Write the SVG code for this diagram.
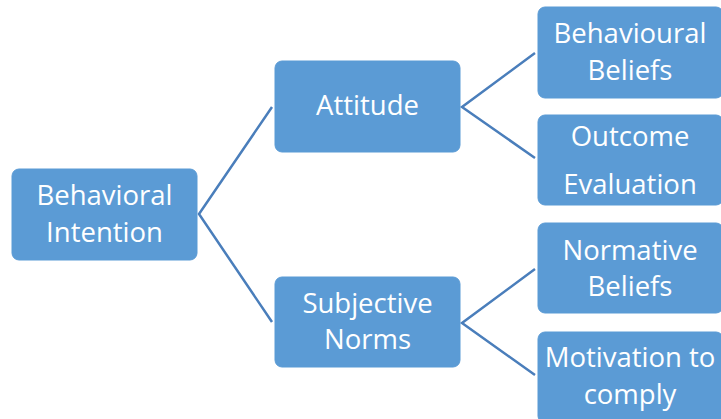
<svg xmlns="http://www.w3.org/2000/svg" width="721" height="419" viewBox="0 0 721 419">
<style>
.box{fill:#5B9BD5;stroke:#5B9BD5;stroke-width:1}
.t{font-family:"Open Sans","Liberation Sans",sans-serif;font-size:27.5px;fill:#FFFFFF;text-anchor:middle}
.c{stroke:#4A7EBB;stroke-width:2.5;fill:none}
</style>
<rect width="721" height="419" fill="#FFFFFF"/>
<g id="connectors">
<polyline class="c" points="272,107 199,214 272,322"/>
<polyline class="c" points="535,53 462,107 535,158"/>
<polyline class="c" points="535,269 462,323 535,375"/>
</g>
<g id="behavioral-intention">
<rect class="box" x="12" y="169" width="185" height="91" rx="7"/>
<text class="t" x="104.5" y="205">Behavioral</text>
<text class="t" x="104.5" y="242">Intention</text>
</g>
<g id="attitude">
<rect class="box" x="275" y="61" width="185" height="91" rx="7"/>
<text class="t" x="367.5" y="115">Attitude</text>
</g>
<g id="subjective-norms">
<rect class="box" x="275" y="277" width="185" height="90" rx="7"/>
<text class="t" x="367.5" y="313">Subjective</text>
<text class="t" x="367.5" y="349">Norms</text>
</g>
<g id="behavioural-beliefs">
<rect class="box" x="538" y="7" width="185" height="91" rx="7"/>
<text class="t" x="630" y="43">Behavioural</text>
<text class="t" x="630" y="80">Beliefs</text>
</g>
<g id="outcome-evaluation">
<rect class="box" x="538" y="115" width="185" height="90" rx="7"/>
<text class="t" x="630" y="146">Outcome</text>
<text class="t" x="630" y="194">Evaluation</text>
</g>
<g id="normative-beliefs">
<rect class="box" x="538" y="223" width="185" height="90" rx="7"/>
<text class="t" x="630" y="260">Normative</text>
<text class="t" x="630" y="296">Beliefs</text>
</g>
<g id="motivation-to-comply">
<rect class="box" x="538" y="332" width="185" height="91" rx="7"/>
<text class="t" x="630" y="367">Motivation to</text>
<text class="t" x="630" y="404">comply</text>
</g>
</svg>
